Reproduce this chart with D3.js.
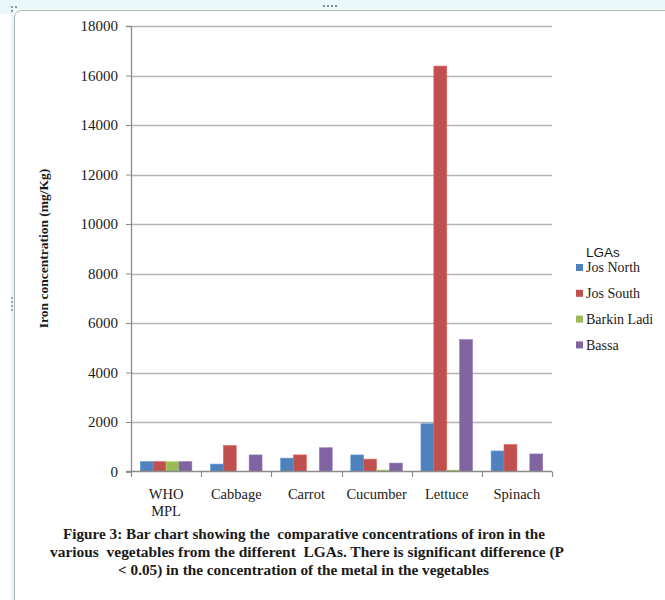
<!DOCTYPE html>
<html>
<head>
<meta charset="utf-8">
<script src="https://cdn.jsdelivr.net/npm/d3@7"></script>
<style>
  html, body { margin: 0; padding: 0; background: #ffffff; }
  svg { display: block; }
</style>
</head>
<body>
<script>
// Iron concentration (mg/Kg) in vegetables by LGA
const categories = ["WHO MPL", "Cabbage", "Carrot", "Cucumber", "Lettuce", "Spinach"];
const seriesNames = ["Jos North", "Jos South", "Barkin Ladi", "Bassa"];
const josNorth   = [400, 300, 540, 670, 1930, 830];
const josSouth   = [400, 1050, 670, 500, 16380, 1090];
const barkinLadi = [400, 0, 0, 60, 60, 0];
const bassa      = [400, 670, 960, 340, 5330, 710];
const yTicks = [0, 2000, 4000, 6000, 8000, 10000, 12000, 14000, 16000, 18000];
const colors = ["#4F81BD", "#C0504D", "#9BBB59", "#8064A2"];
const captionLines = [
  "Figure 3: Bar chart showing the  comparative concentrations of iron in the",
  "various  vegetables from the different  LGAs. There is significant difference (P",
  "< 0.05) in the concentration of the metal in the vegetables"
];

const seriesValues = [josNorth, josSouth, barkinLadi, bassa];
const W = 665, H = 600;
const plot = { left: 131, right: 552, top: 26, bottom: 471.5 };
const serif = "'Liberation Serif', 'Times New Roman', serif";

const svg = d3.select("body").append("svg").attr("width", W).attr("height", H);

// Page frame
svg.append("rect").attr("x", 0).attr("y", 0).attr("width", W).attr("height", 9).attr("fill", "#e9f8fb");
svg.append("rect").attr("x", 0).attr("y", 0).attr("width", 13).attr("height", 14).attr("fill", "#e9f8fb");
svg.append("rect").attr("x", 11.5).attr("y", 9).attr("width", 2).attr("height", H - 9).attr("fill", "#dff3f7");
svg.append("path")
  .attr("d", `M14.5,${H} L14.5,18 Q14.5,10.5 22,10.5 L${W},10.5`)
  .attr("fill", "none").attr("stroke", "#a9b3b6").attr("stroke-width", 1);
// small grip dots
[[11, 6], [15, 6], [11, 10]].forEach(([x, y]) =>
  svg.append("rect").attr("x", x).attr("y", y).attr("width", 2).attr("height", 2).attr("fill", "#8a9aa0"));
for (let i = 0; i < 4; i++) {
  svg.append("rect").attr("x", 323 + i * 4).attr("y", 5).attr("width", 2).attr("height", 2).attr("fill", "#7f8c90");
  svg.append("rect").attr("x", 11).attr("y", 297 + i * 4).attr("width", 2).attr("height", 2).attr("fill", "#9aa6aa");
}

// Scales
const x0 = d3.scaleBand().domain(categories).range([plot.left, plot.right]).padding(0);
const x1 = d3.scaleBand().domain(seriesNames).range([0, x0.bandwidth()]).paddingInner(0).paddingOuter(0.72);
const y = d3.scaleLinear().domain([0, 18000]).range([plot.bottom, plot.top]);

// Gridlines
svg.append("g").selectAll("line").data(yTicks.filter(d => d > 0)).join("line")
  .attr("x1", plot.left).attr("x2", plot.right)
  .attr("y1", d => Math.round(y(d)) + 0.5).attr("y2", d => Math.round(y(d)) + 0.5)
  .attr("stroke", "#b3b3b3").attr("stroke-width", 1.3);

// Bars
const groups = svg.append("g").selectAll("g").data(categories).join("g")
  .attr("transform", d => `translate(${x0(d)},0)`);
groups.selectAll("rect")
  .data((c, i) => seriesNames.map((s, j) => ({ s, j, v: seriesValues[j][i] })))
  .join("rect")
  .attr("x", d => x1(d.s))
  .attr("width", x1.bandwidth())
  .attr("y", d => y(d.v))
  .attr("height", d => plot.bottom - y(d.v))
  .attr("fill", d => colors[d.j])
  .attr("stroke", d => d3.color(colors[d.j]).brighter(0.5))
  .attr("stroke-width", 0.6);

// Y axis
const yAxis = svg.append("g").attr("transform", `translate(${plot.left},0)`);
yAxis.call(d3.axisLeft(y).tickValues(yTicks).tickSize(5).tickPadding(8).tickFormat(d3.format("d")));
yAxis.attr("font-family", null).attr("font-size", null);
yAxis.select(".domain").attr("stroke", "#8c8c8c").attr("stroke-width", 1.3);
yAxis.selectAll(".tick line").attr("stroke", "#8c8c8c");
yAxis.selectAll(".tick text")
  .style("font-family", serif).style("font-size", "15px").style("fill", "#1a1a1a");

// X axis
svg.append("line").attr("x1", plot.left - 5).attr("x2", plot.right)
  .attr("y1", plot.bottom).attr("y2", plot.bottom)
  .attr("stroke", "#8c8c8c").attr("stroke-width", 1.3);
const boundaries = categories.map(c => x0(c)).concat([plot.right]);
svg.append("g").selectAll("line").data(boundaries).join("line")
  .attr("x1", d => Math.round(d) + 0.5).attr("x2", d => Math.round(d) + 0.5)
  .attr("y1", plot.bottom).attr("y2", plot.bottom + 5.5)
  .attr("stroke", "#8c8c8c").attr("stroke-width", 1.2);
const catLabels = svg.append("g").selectAll("text").data(categories).join("text")
  .attr("x", d => x0(d) + x0.bandwidth() / 2)
  .attr("y", 499)
  .attr("text-anchor", "middle")
  .style("font-family", serif)
  .style("font-size", "14.5px").style("fill", "#1a1a1a");
catLabels.each(function (d) {
  const parts = d === "WHO MPL" ? ["WHO", "MPL"] : [d];
  d3.select(this).selectAll("tspan").data(parts).join("tspan")
    .attr("x", x0(d) + x0.bandwidth() / 2)
    .attr("dy", (p, i) => i === 0 ? 0 : 16.5)
    .text(p => p);
});

// Y axis title
svg.append("text")
  .attr("transform", `translate(48,${(159 + 338) / 2}) rotate(-90)`)
  .attr("text-anchor", "middle")
  .style("font-family", serif)
  .style("font-weight", "bold").style("font-size", "13.5px").style("fill", "#1a1a1a")
  .text("Iron concentration (mg/Kg)");

// Legend
const legend = svg.append("g");
legend.append("text").attr("x", 586).attr("y", 256.5)
  .style("font-family", "'Liberation Sans', Arial, sans-serif")
  .style("font-size", "13.5px").style("fill", "#1a1a1a").text("LGAs");
const items = legend.selectAll("g.item").data(seriesNames).join("g")
  .attr("class", "item")
  .attr("transform", (d, i) => `translate(0,${267.5 + i * 25.8})`);
items.append("rect").attr("x", 576).attr("y", -3.5).attr("width", 7).attr("height", 7)
  .attr("fill", (d, i) => colors[i]);
items.append("text").attr("x", 586).attr("y", 4.8)
  .style("font-family", serif)
  .style("font-size", "14px").style("fill", "#1a1a1a").text(d => d);

// Caption
const capSpans = [[63, 545], [50, 564], [118, 489]];
svg.append("g").selectAll("text").data(captionLines).join("text")
  .attr("x", (d, i) => capSpans[i][0])
  .attr("y", (d, i) => 539 + i * 18)
  .attr("textLength", (d, i) => capSpans[i][1] - capSpans[i][0])
  .attr("lengthAdjust", "spacingAndGlyphs")
  .style("font-family", serif)
  .style("font-weight", "bold").style("font-size", "14px").style("fill", "#1a1a1a")
  .style("white-space", "pre")
  .text(d => d);
</script>
</body>
</html>
